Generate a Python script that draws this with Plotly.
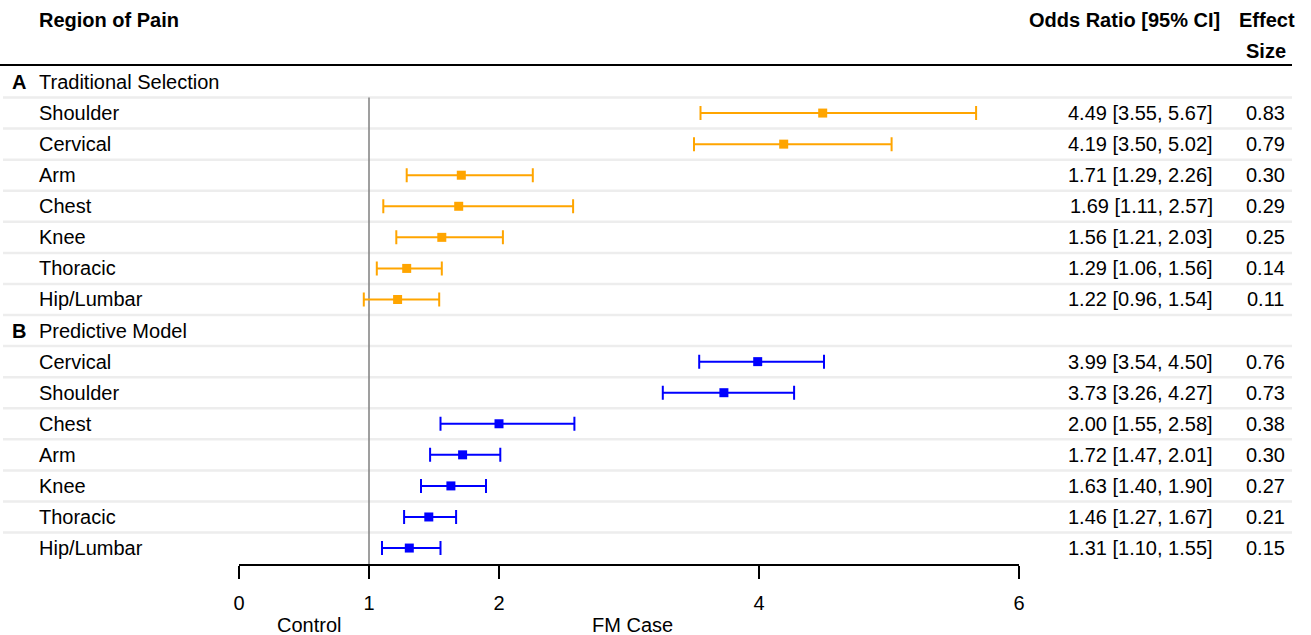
import plotly.graph_objects as go

# ---------------- data ----------------
groups = ["Traditional Selection", "Predictive Model"]
group_letters = ["A", "B"]

trad_regions = ["Shoulder", "Cervical", "Arm", "Chest", "Knee", "Thoracic", "Hip/Lumbar"]
trad_or = [4.49, 4.19, 1.71, 1.69, 1.56, 1.29, 1.22]
trad_lo = [3.55, 3.50, 1.29, 1.11, 1.21, 1.06, 0.96]
trad_hi = [5.67, 5.02, 2.26, 2.57, 2.03, 1.56, 1.54]
trad_es = [0.83, 0.79, 0.30, 0.29, 0.25, 0.14, 0.11]

pred_regions = ["Cervical", "Shoulder", "Chest", "Arm", "Knee", "Thoracic", "Hip/Lumbar"]
pred_or = [3.99, 3.73, 2.00, 1.72, 1.63, 1.46, 1.31]
pred_lo = [3.54, 3.26, 1.55, 1.47, 1.40, 1.27, 1.10]
pred_hi = [4.50, 4.27, 2.58, 2.01, 1.90, 1.67, 1.55]
pred_es = [0.76, 0.73, 0.38, 0.30, 0.27, 0.21, 0.15]

tick_vals = [0, 1, 2, 4, 6]
tick_text = ["0", "1", "2", "4", "6"]
side_labels = ["Control", "FM Case"]
side_label_x = [0.54, 3.03]

colors = ["#FFA500", "#0000FF"]

# ---------------- layout helpers ----------------
W, H = 1311, 635
FONT = "Liberation Sans, Arial, Helvetica, sans-serif"
FS = 20


def px(x):
    return x / W


fig = go.Figure()
ann = []
shapes = []

series = [
    (trad_regions, trad_or, trad_lo, trad_hi, trad_es),
    (pred_regions, pred_or, pred_lo, pred_hi, pred_es),
]

row = 0
for g, (regions, ors, los, his, ess) in enumerate(series):
    ann.append(dict(x=px(10), y=row, xref="paper", yref="y", text="<b>%s</b>" % group_letters[g],
                    xanchor="left", yanchor="middle", showarrow=False))
    ann.append(dict(x=px(37), y=row, xref="paper", yref="y", text=groups[g],
                    xanchor="left", yanchor="middle", showarrow=False))
    row += 1
    ys = []
    for i, r in enumerate(regions):
        ys.append(row)
        ann.append(dict(x=px(37), y=row, xref="paper", yref="y", text=r,
                        xanchor="left", yanchor="middle", showarrow=False))
        ann.append(dict(x=px(1215), y=row, xref="paper", yref="y",
                        text="%.2f [%.2f, %.2f]" % (ors[i], los[i], his[i]),
                        xanchor="right", yanchor="middle", showarrow=False))
        ann.append(dict(x=px(1265), y=row, xref="paper", yref="y", text="%.2f" % ess[i],
                        xanchor="center", yanchor="middle", showarrow=False))
        row += 1
    fig.add_trace(go.Scatter(
        x=ors, y=ys, mode="markers",
        marker=dict(symbol="square", size=9, color=colors[g]),
        error_x=dict(type="data", symmetric=False,
                     array=[h - o for h, o in zip(his, ors)],
                     arrayminus=[o - l for o, l in zip(ors, los)],
                     color=colors[g], thickness=2, width=7),
        showlegend=False, hoverinfo="skip", cliponaxis=False,
    ))

n_rows = row

# thin separators between rows
for i in range(n_rows - 1):
    shapes.append(dict(type="line", xref="paper", yref="y", x0=px(3), x1=px(1292),
                       y0=i + 0.5, y1=i + 0.5, line=dict(color="#EDEDED", width=2.5), layer="below"))

# header rule
shapes.append(dict(type="line", xref="paper", yref="y", x0=px(0), x1=px(1292),
                   y0=-0.55, y1=-0.55, line=dict(color="black", width=2)))

# reference line at OR = 1
shapes.append(dict(type="line", xref="x", yref="y", x0=1, x1=1, y0=0.5, y1=n_rows - 0.487,
                   line=dict(color="#7F7F7F", width=1.5), layer="below"))

# column headers
ann.append(dict(x=px(37), y=-2, xref="paper", yref="y", text="<b>Region of Pain</b>",
                xanchor="left", yanchor="middle", showarrow=False))
ann.append(dict(x=px(1222), y=-2, xref="paper", yref="y", text="<b>Odds Ratio [95% CI]</b>",
                xanchor="right", yanchor="middle", showarrow=False))
ann.append(dict(x=px(1267), y=-2, xref="paper", yref="y", text="<b>Effect</b>",
                xanchor="center", yanchor="middle", showarrow=False))
ann.append(dict(x=px(1266), y=-1, xref="paper", yref="y", text="<b>Size</b>",
                xanchor="center", yanchor="middle", showarrow=False))

# labels under the axis
for lab, xv in zip(side_labels, side_label_x):
    ann.append(dict(x=xv, y=(H - 625) / H, xref="x", yref="paper", text=lab,
                    xanchor="center", yanchor="middle", showarrow=False))

row_px = 31.07
top_row_px = 82
axis_px = 564
y_top = -top_row_px / row_px
y_bot = (axis_px - top_row_px) / row_px

fig.update_layout(
    width=W, height=H,
    margin=dict(l=0, r=0, t=0, b=0, pad=0, autoexpand=False),
    showlegend=False,
    paper_bgcolor="white", plot_bgcolor="white",
    font=dict(family=FONT, size=FS, color="black"),
    xaxis=dict(domain=[px(239), px(1019)], range=[0, 6], tickvals=tick_vals, ticktext=tick_text,
               showline=True, linecolor="black", linewidth=2, ticks="outside", ticklen=13,
               tickwidth=2, tickcolor="black", showgrid=False, zeroline=False,
               ticklabelstandoff=7, automargin=False,
               tickfont=dict(size=FS, family=FONT, color="black")),
    yaxis=dict(domain=[(H - axis_px) / H, 1], range=[y_bot, y_top], visible=False,
               showgrid=False, zeroline=False, automargin=False),
    annotations=ann,
    shapes=shapes,
)

fig.write_html("out.html")
